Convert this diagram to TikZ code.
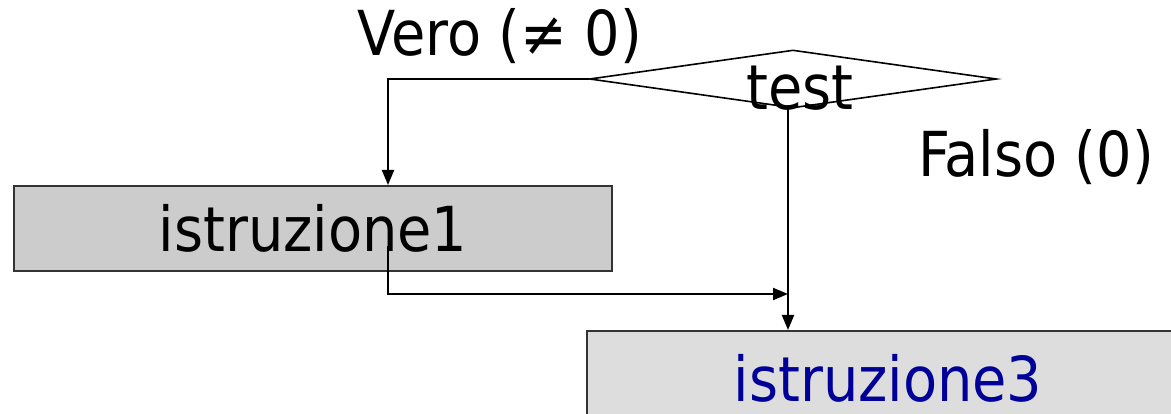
\documentclass[tikz,border=0pt]{standalone}
\usepackage{fontspec}
\setmainfont{DejaVu Sans Condensed}
\usepackage{xcolor}
\usepackage{tikz}
\usetikzlibrary{positioning, shapes.geometric, arrows.meta}
\definecolor{grigio}{HTML}{CCCCCC}
\definecolor{grigiochiaro}{HTML}{DDDDDD}
\definecolor{blu}{HTML}{000099}

\begin{document}
\begin{tikzpicture}[x=1pt, y=-1pt,
		every node/.style={text=black, font=\fontsize{62}{68}\selectfont},
		scatola/.style={rectangle, draw=black!80, line width=2pt, inner sep=0pt},
		freccia/.style={line width=2pt, -{Triangle[length=15pt, width=12pt]}}
		]
		\clip (0,0) rectangle (1171,414);
		\useasboundingbox (0,0) rectangle (1171,414);
		
		% Nodi principali
		\node[diamond, draw, line width=1.6pt, minimum width=407pt, minimum height=58pt, inner sep=0pt] (test) at (793,79) {};
		\node (testo) at (800,88) {test};
		\node[scatola, fill=grigio, minimum width=598pt, minimum height=85pt] (istr1) at (313,228.5) {istruzione1};
		\node[scatola, fill=grigiochiaro, minimum width=602pt, minimum height=94pt, text=blu] (istr3) at (888,378) {istruzione3};
		
		% etichette
		\node (vero) at (500,36) {Vero (≠ 0)};
		\node (falso) at (1036,157) {Falso (0)};
		
		\coordinate (unione) at (788,294);
		
		% frecce
		\draw[freccia] (test.west) -| ([xshift=75pt]istr1.north);
		\draw[freccia] ([xshift=75pt, yshift=-18pt]istr1.center) |- (unione);
		\draw[freccia] ([xshift=-5pt]test.south) -- (istr3.north -| unione);
		
	\end{tikzpicture}
\end{document}
